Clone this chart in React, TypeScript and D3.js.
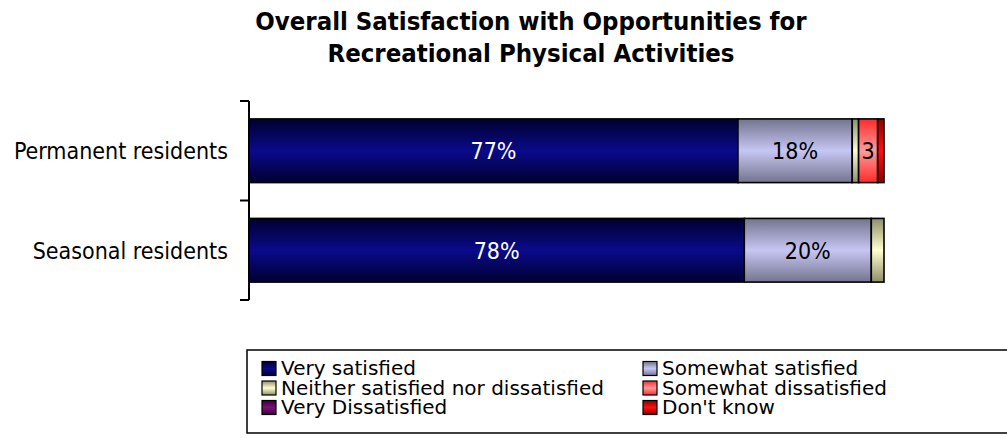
import React from "react";
import * as d3 from "d3";

// Survey groups and response shares (%)
const groups = ["Permanent residents", "Seasonal residents"];
const responses = [
  "Very satisfied",
  "Somewhat satisfied",
  "Neither satisfied nor dissatisfied",
  "Somewhat dissatisfied",
  "Very Dissatisfied",
  "Don't know",
];
const permanentValues = [77, 18, 1, 3, 0, 1];
const seasonalValues = [78, 20, 2, 0, 0, 0];
// labels printed inside the segments ("" = none)
const permanentLabels = ["77%", "18%", "", "3", "", ""];
const seasonalLabels = ["78%", "20%", "", "", "", ""];

// [edge, centre] colours per response
const colors: [string, string][] = [
  ["#00002e", "#0a0a8c"],
  ["#74748e", "#c6c6f4"],
  ["#8e8e6a", "#ffffd0"],
  ["#ff2a2a", "#ff9a9a"],
  ["#3a003a", "#7a107a"],
  ["#8c0000", "#ff1010"],
];
const labelColors = ["#ffffff", "#000000", "#000000", "#000000", "#ffffff", "#ffffff"];

const W = 1007;
const H = 438;
const FONT = "Tahoma, 'DejaVu Sans Condensed', 'DejaVu Sans', sans-serif";
const LEGEND_FONT = "Tahoma, 'DejaVu Sans', sans-serif";

export default function App() {
  const rows = [
    { name: groups[0], values: permanentValues, labels: permanentLabels },
    { name: groups[1], values: seasonalValues, labels: seasonalLabels },
  ];

  const x = d3.scaleLinear().domain([0, 100]).range([249, 884]);
  const y = d3.scaleBand().domain(groups).range([101, 300]).paddingInner(0.36).paddingOuter(0.18);

  const legendX = 247;
  const legendY = 350;
  const colX = [262, 643];

  return (
    <svg width={W} height={H} style={{ position: "absolute", left: 0, top: 0, background: "#fff" }} fontFamily={FONT}>
      <defs>
        {colors.map((c, i) => (
          <linearGradient key={i} id={`g${i}`} x1="0" y1="0" x2="0" y2="1">
            <stop offset="0%" stopColor={c[0]} />
            <stop offset="50%" stopColor={c[1]} />
            <stop offset="100%" stopColor={c[0]} />
          </linearGradient>
        ))}
      </defs>

      <text x={531} y={30} textAnchor="middle" fontWeight="bold" fontSize={25.5}>
        Overall Satisfaction with Opportunities for
      </text>
      <text x={531} y={62} textAnchor="middle" fontWeight="bold" fontSize={25.5}>
        Recreational Physical Activities
      </text>

      {/* category axis */}
      <line x1={249} x2={249} y1={101} y2={300} stroke="#000" strokeWidth={2} />
      {[101, 200.5, 300].map((t, i) => (
        <line key={i} x1={240} x2={249} y1={t} y2={t} stroke="#000" strokeWidth={2} />
      ))}

      {rows.map((r) => {
        const y0 = y(r.name) as number;
        const bh = y.bandwidth();
        const stack = d3.cumsum(r.values);
        return (
          <g key={r.name}>
            <text x={228} y={y0 + bh / 2} dy="0.36em" textAnchor="end" fontSize={23}>
              {r.name}
            </text>
            {r.values.map((v, i) => {
              if (v <= 0) return null;
              const start = stack[i] - v;
              const x0 = x(start);
              const x1 = x(stack[i]);
              return (
                <g key={i}>
                  <rect x={x0} y={y0} width={x1 - x0} height={bh} fill={`url(#g${i})`} stroke="#000" strokeWidth={1.6} />
                  {r.labels[i] && (
                    <text x={(x0 + x1) / 2} y={y0 + bh / 2} dy="0.36em" textAnchor="middle" fontSize={23} fill={labelColors[i]}>
                      {r.labels[i]}
                    </text>
                  )}
                </g>
              );
            })}
          </g>
        );
      })}

      {/* legend */}
      <rect x={legendX} y={legendY} width={W - legendX + 5} height={83} fill="#fff" stroke="#000" strokeWidth={1.5} />
      {responses.map((name, i) => {
        const cx = colX[i % 2];
        const base = 375 + Math.floor(i / 2) * 19.5;
        return (
          <g key={name}>
            <rect x={cx} y={base - 13.5} width={14} height={14} fill={`url(#g${i})`} stroke="#000" strokeWidth={1.2} />
            <text x={cx + 19} y={base} fontSize={20} fontFamily={LEGEND_FONT}>
              {name}
            </text>
          </g>
        );
      })}
    </svg>
  );
}
